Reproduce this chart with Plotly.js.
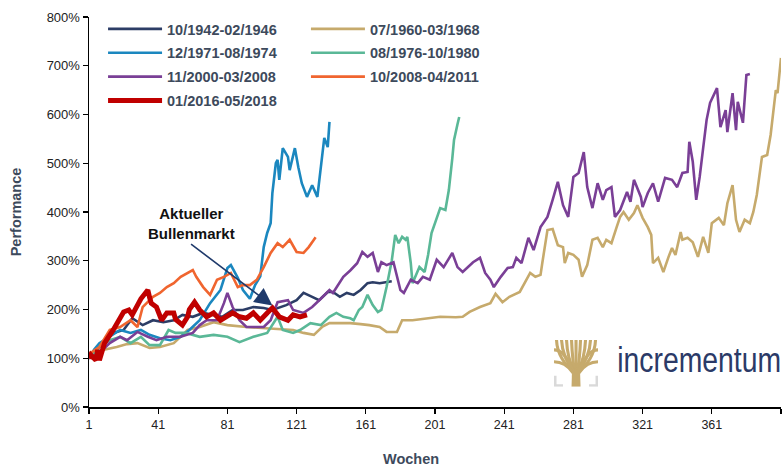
<!DOCTYPE html>
<html>
<head>
<meta charset="utf-8">
<script src="https://cdn.plot.ly/plotly-3.0.1.min.js"></script>
<style>html,body{margin:0;padding:0;background:#fff;}#chart{width:782px;height:468px;}</style>
</head>
<body>
<div id="chart"></div>
<script>
// ---- data (weeks since start, performance in %) ----
const names = ["10/1942-02/1946","07/1960-03/1968","12/1971-08/1974","08/1976-10/1980","11/2000-03/2008","10/2008-04/2011","01/2016-05/2018"];

const w1942 = [1,9,15,21,26,32,38,44,50,55,61,67,73,78,84,90,96,102,107,115,121,125,130,134,139,142,146,150,154,158,162,165,169,173,176];
const v1942 = [100,131,152,158,182,168,178,174,178,189,185,193,189,185,199,199,205,203,199,209,219,234,226,219,236,236,226,234,230,240,254,256,254,256,258];

const w1960 = [1,7,9,17,23,29,36,42,50,58,65,73,81,92,104,119,125,131,136,140,146,152,158,163,169,173,179,182,188,196,204,213,217,221,227,233,236,240,244,250,253,256,259,262,263,266,269,272,275,276,278,281,284,286,289,292,295,298,300,303,306,308,310,313,316,318,321,324,326,327,330,333,336,338,340,343,344,347,350,353,356,359,361,365,368,370,373,375,377,380,383,385,387,390,393,395,398,399,401];
const v1960 = [100,112,117,123,129,131,121,123,131,158,164,174,168,164,162,158,152,148,165,172,172,172,170,168,164,154,154,178,178,182,185,184,185,195,205,213,232,215,226,236,254,275,267,271,295,363,365,332,328,295,316,312,302,267,291,343,347,328,343,336,369,390,400,384,398,414,388,369,353,295,306,277,308,326,312,359,343,347,338,308,349,316,377,388,373,418,455,384,359,384,377,400,435,513,517,558,650,644,716];

const w1971 = [1,4,7,13,19,25,31,36,42,48,54,59,65,71,77,81,83,87,90,94,97,100,102,104,106,107,109,110,111,113,116,117,120,122,124,127,129,130,133,136,137,139,140];
const v1971 = [100,118,131,144,158,152,158,148,141,137,144,158,178,213,240,285,291,265,240,222,250,268,328,357,377,439,500,507,466,531,513,486,531,492,459,431,445,455,431,513,552,533,585];

const w1976 = [1,7,13,19,25,31,36,42,47,51,57,65,73,81,88,96,104,110,113,119,123,129,135,140,144,148,152,154,157,159,162,165,168,170,173,176,178,180,182,184,185,187,188,191,192,195,197,199,202,204,207,209,211,212,214,215];
const v1976 = [100,123,137,144,131,144,127,127,158,152,152,144,148,144,133,144,152,185,158,152,158,172,168,185,193,185,182,178,199,205,230,209,195,199,246,300,353,336,349,343,349,295,254,281,287,277,312,357,390,408,404,445,510,548,580,595];

const w2000 = [1,7,13,19,23,29,35,40,46,54,61,65,69,75,79,81,84,88,92,96,102,106,110,116,119,125,130,135,140,142,148,152,156,159,162,165,168,170,173,177,181,183,187,191,194,198,202,206,211,214,217,223,227,230,233,235,239,243,246,248,251,255,258,262,266,269,272,275,278,281,284,287,289,292,295,298,300,303,305,308,312,314,316,320,321,324,327,330,334,338,341,344,347,348,350,352,354,356,358,360,364,366,369,370,373,375,376,379,381,383];
const v2000 = [100,111,131,144,137,154,144,137,144,144,152,168,178,178,213,234,205,178,164,164,164,178,215,219,199,193,205,222,240,234,267,280,295,318,308,316,277,297,291,297,240,234,261,254,267,261,302,287,316,287,277,297,306,275,261,246,267,285,287,306,295,347,322,369,390,425,462,414,390,472,480,523,451,408,459,425,445,451,390,404,441,421,466,431,410,439,459,421,470,466,451,480,482,544,503,425,472,531,589,624,654,574,609,564,644,568,626,583,681,683];

const w2008 = [1,2,7,13,19,25,29,32,38,42,46,50,54,58,61,63,67,71,75,79,83,87,90,94,98,102,106,110,113,117,121,125,128,131,132];
const v2008 = [100,111,123,158,164,178,164,205,226,234,246,254,267,275,281,267,246,230,261,267,275,246,250,250,261,287,316,336,328,343,318,316,328,343,348];

const w2016 = [1,2,5,6,7,10,15,18,21,24,26,31,35,36,37,40,42,43,46,50,51,54,55,58,59,62,65,69,73,77,81,84,88,92,96,100,104,107,111,116,119,123,127];
const v2016 = [100,107,96,117,96,131,158,178,195,199,189,222,240,225,213,205,185,178,193,193,180,172,168,185,200,215,199,185,193,178,185,193,185,182,193,178,193,203,185,178,189,185,189];

const xTicks = [1,41,81,121,161,201,241,281,321,361,401];

const colors = ["#2C3D66","#C6AA6C","#1B87BF","#5AB897","#7A3F96","#F0652F","#C00000"];
const weeks = [w1942,w1960,w1971,w1976,w2000,w2008,w2016];
const vals  = [v1942,v1960,v1971,v1976,v2000,v2008,v2016];
const whichLegend = ["legend","legend2","legend","legend2","legend","legend2","legend"];

const traces = names.map((n,i)=>({
  type:"scatter", mode:"lines", name:n, x:weeks[i], y:vals[i],
  line:{color:colors[i], width: i===6 ? 5 : 2.6},
  legend: whichLegend[i], legendgroup: "g"+i, hoverinfo:"skip"
}));

const legendFont = {family:"Liberation Sans, Arial, sans-serif", size:14.5, color:"#3D4A5C", weight:"bold"};

const treeSvg = "<svg xmlns='http://www.w3.org/2000/svg' viewBox='0 0 44 47'>"+
 "<g fill='none' stroke='#C6AA6C' stroke-width='3.1'>"+
 "<path d='M22,36 V0'/>"+
 "<path d='M21,33 C19,24 18,12 17.5,0'/><path d='M23,33 C25,24 26,12 26.5,0'/>"+
 "<path d='M20.5,32 C16,24 13,12 12.5,0'/><path d='M23.5,32 C28,24 31,12 31.5,0'/>"+
 "<path d='M20,31 C13,24 8,12 7.5,0'/><path d='M24,31 C31,24 36,12 36.5,0'/>"+
 "<path d='M20,31 C11,26 3,14 2.5,0'/><path d='M24,31 C33,26 41,14 41.5,0'/>"+
 "<path d='M19,31 C13,16 6,10 0,10'/><path d='M25,31 C31,16 38,10 44,10'/>"+
 "<path d='M19,33 C14,26 7,22 0,22'/><path d='M25,33 C30,26 37,22 44,22'/>"+
 "</g>"+
 "<path d='M18,30 L26,30 L26.5,47 L17.5,47 Z' fill='#C6AA6C'/>"+
 "<g fill='none' stroke='#D9D9D9' stroke-width='2.5'><path d='M1.25,36 V45.75 H9'/><path d='M42.75,36 V45.75 H35'/></g>"+
 "</svg>";

const layout = {
  width:782, height:468,
  margin:{l:89, r:1, t:17, b:61},
  paper_bgcolor:"#fff", plot_bgcolor:"#fff",
  font:{family:"Liberation Sans, Arial, sans-serif", color:"#222"},
  showlegend:true,
  legend:{x:0.0203, y:1.0103, xanchor:"left", yanchor:"top", bgcolor:"rgba(0,0,0,0)",
          font:legendFont, itemwidth:54, tracegroupgap:2, traceorder:"grouped"},
  legend2:{x:0.3135, y:1.0103, xanchor:"left", yanchor:"top", bgcolor:"rgba(0,0,0,0)",
          font:legendFont, itemwidth:54, tracegroupgap:2, traceorder:"grouped"},
  xaxis:{range:[1,401], tickvals:xTicks, ticktext:xTicks.map(String), ticks:"outside", ticklen:5, tickwidth:1.3,
         tickcolor:"#000", showline:true, linecolor:"#000", linewidth:1.5, showgrid:false, zeroline:false,
         tickfont:{size:12.5, color:"#222"}, fixedrange:true},
  yaxis:{range:[0,800], dtick:100, ticksuffix:"%", ticks:"outside", ticklen:5, tickwidth:1.3,
         tickcolor:"#000", showline:true, linecolor:"#000", linewidth:1.5, showgrid:false, zeroline:false,
         tickfont:{size:13, color:"#222"},
         title:{text:"Performance", font:{size:14.5, color:"#3D4A5C", weight:"bold"}, standoff:21}, fixedrange:true},
  annotations:[
    {x:107, y:208, xref:"x", yref:"y", ax:60, ay:334, axref:"x", ayref:"y",
     text:"Aktueller<br>Bullenmarkt", showarrow:true, arrowhead:2, arrowsize:2.2, arrowwidth:1.6,
     arrowcolor:"#1F3A6B", xanchor:"center", yanchor:"bottom", standoff:0, startstandoff:0,
     font:{size:15, color:"#111", weight:"bold"}},
    {x:0.4653, y:-0.1333, xref:"paper", yref:"paper", text:"Wochen", showarrow:false,
     xanchor:"center", yanchor:"middle",
     font:{size:14.5, color:"#3D4A5C", weight:"bold"}},
    {x:0.881, y:0.066, xref:"paper", yref:"paper", text:"incrementum", showarrow:false,
     xanchor:"center", yanchor:"bottom",
     font:{size:35, color:"#2B3A67"}}
  ],
  images:[{source:"data:image/svg+xml;charset=utf-8,"+encodeURIComponent(treeSvg),
           xref:"paper", yref:"paper", x:0.672, y:0.172, sizex:0.0636, sizey:0.12,
           xanchor:"left", yanchor:"top", sizing:"stretch", layer:"above"}]
};

Plotly.newPlot("chart", traces, layout, {staticPlot:true, displayModeBar:false}).then(function(gd){
  // condense the logo word horizontally (the original uses a condensed typeface)
  var t = gd.querySelector('.annotation[data-index="2"] text');
  if (t) {
    var bb = t.getBBox();
    var cx = bb.x + bb.width/2;
    t.setAttribute('transform','translate('+cx+',0) scale(0.81,1) translate('+(-cx)+',0)');
  }
});
</script>
</body>
</html>
